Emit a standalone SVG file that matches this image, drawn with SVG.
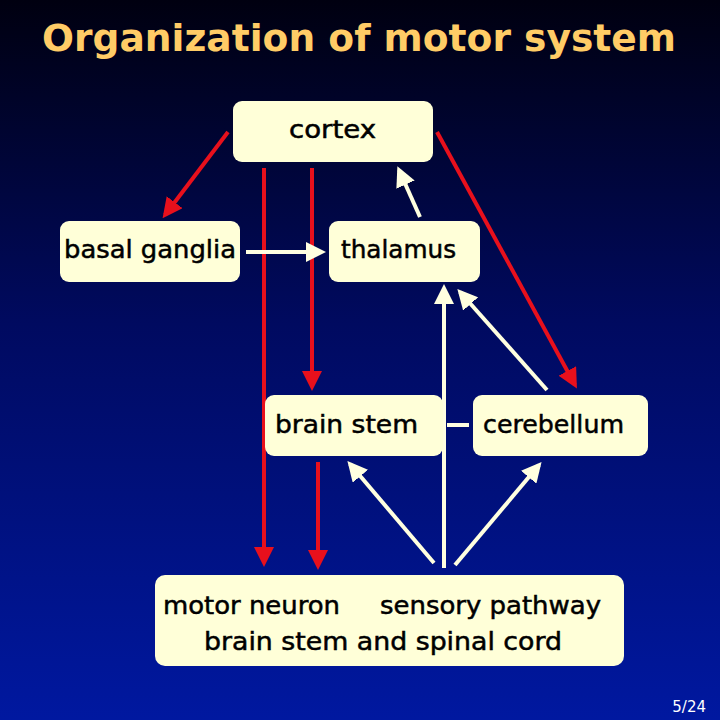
<svg xmlns="http://www.w3.org/2000/svg" width="720" height="720" viewBox="0 0 720 720">
<defs>
<linearGradient id="bg" x1="0" y1="0" x2="0" y2="1"><stop offset="0" stop-color="#000010"/><stop offset="0.45" stop-color="#000a60"/><stop offset="1" stop-color="#0018a0"/></linearGradient>
<marker id="rh" markerWidth="5" markerHeight="5" refX="4" refY="2.5" orient="auto" markerUnits="strokeWidth"><path d="M0,0L5,2.5L0,5z" fill="#e8101c"/></marker>
<marker id="wh" markerWidth="5" markerHeight="5" refX="4" refY="2.5" orient="auto" markerUnits="strokeWidth"><path d="M0,0L5,2.5L0,5z" fill="#ffffe0"/></marker>
<style>
.box{fill:#ffffd8}
.t{font-family:"DejaVu Sans","Liberation Sans",sans-serif;font-size:24px;fill:#000;stroke:#000;stroke-width:0.5}
.r{stroke:#e8101c;stroke-width:4;fill:none}
.w{stroke:#ffffe0;stroke-width:4;fill:none}
</style>
</defs>
<rect width="720" height="720" fill="url(#bg)"/>
<text x="42" y="51" textLength="634" lengthAdjust="spacingAndGlyphs" font-family="'DejaVu Sans',sans-serif" font-size="38" font-weight="bold" fill="#ffcc66">Organization of motor system</text>
<g id="connectors">
<line class="r" x1="228" y1="132" x2="165" y2="215" marker-end="url(#rh)"/>
<line class="r" x1="437" y1="132" x2="575" y2="385" marker-end="url(#rh)"/>
<line class="r" x1="264" y1="168" x2="264" y2="563" marker-end="url(#rh)"/>
<line class="r" x1="312" y1="168" x2="312" y2="387" marker-end="url(#rh)"/>
<line class="r" x1="318" y1="462" x2="318" y2="566" marker-end="url(#rh)"/>
<line class="w" x1="246" y1="252" x2="322" y2="252" marker-end="url(#wh)"/>
<line class="w" x1="420" y1="217" x2="399" y2="170" marker-end="url(#wh)"/>
<line class="w" x1="444" y1="568" x2="444" y2="288" marker-end="url(#wh)"/>
<line class="w" x1="547" y1="390" x2="460" y2="292" marker-end="url(#wh)"/>
<line class="w" x1="447" y1="425" x2="469" y2="425"/>
<line class="w" x1="434" y1="563" x2="350" y2="464" marker-end="url(#wh)"/>
<line class="w" x1="455" y1="565" x2="539" y2="465" marker-end="url(#wh)"/>
</g>
<g id="cortex"><rect class="box" x="233" y="101" width="200" height="61" rx="9"/><text class="t" x="289" y="138" textLength="87" lengthAdjust="spacingAndGlyphs">cortex</text></g>
<g id="basal-ganglia"><rect class="box" x="60" y="221" width="180" height="61" rx="9"/><text class="t" x="64" y="258" textLength="172" lengthAdjust="spacingAndGlyphs">basal ganglia</text></g>
<g id="thalamus"><rect class="box" x="329" y="221" width="151" height="61" rx="9"/><text class="t" x="341" y="258" textLength="115" lengthAdjust="spacingAndGlyphs">thalamus</text></g>
<g id="brain-stem"><rect class="box" x="265" y="395" width="178" height="61" rx="9"/><text class="t" x="275" y="433" textLength="143" lengthAdjust="spacingAndGlyphs">brain stem</text></g>
<g id="cerebellum"><rect class="box" x="473" y="395" width="175" height="61" rx="9"/><text class="t" x="483" y="433" textLength="141" lengthAdjust="spacingAndGlyphs">cerebellum</text></g>
<g id="spinal"><rect class="box" x="155" y="575" width="469" height="91" rx="10"/><text class="t" x="163" y="614" textLength="177" lengthAdjust="spacingAndGlyphs">motor neuron</text><text class="t" x="380" y="614" textLength="221" lengthAdjust="spacingAndGlyphs">sensory pathway</text><text class="t" x="204" y="650" textLength="358" lengthAdjust="spacingAndGlyphs">brain stem and spinal cord</text></g>
<text x="706" y="712" text-anchor="end" font-family="'DejaVu Sans',sans-serif" font-size="15" fill="#fff">5/24</text>
</svg>
